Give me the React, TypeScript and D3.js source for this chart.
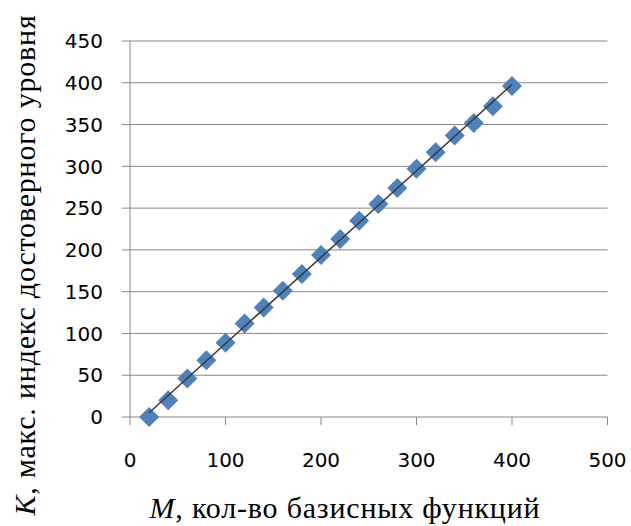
import React from "react";
import * as d3 from "d3";

const mValues = [20, 40, 60, 80, 100, 120, 140, 160, 180, 200, 220, 240, 260, 280, 300, 320, 340, 360, 380, 400];
const kValues = [0, 20, 46, 68, 89, 112, 131, 151, 171, 194, 213, 235, 255, 274, 297, 317, 337, 352, 372, 396];
const xTicks = [0, 100, 200, 300, 400, 500];
const yTicks = [0, 50, 100, 150, 200, 250, 300, 350, 400, 450];

const W = 631;
const H = 526;

export default function App() {
  const x = d3.scaleLinear().domain([0, 500]).range([130, 607.5]);
  const y = d3.scaleLinear().domain([0, 450]).range([417, 41]);

  const n = mValues.length;
  const mx = d3.mean(mValues)!;
  const my = d3.mean(kValues)!;
  let sxy = 0, sxx = 0;
  for (let i = 0; i < n; i++) {
    sxy += (mValues[i] - mx) * (kValues[i] - my);
    sxx += (mValues[i] - mx) ** 2;
  }
  const slope = sxy / sxx;
  const intercept = my - slope * mx;
  const xMin = d3.min(mValues)!;
  const xMax = d3.max(mValues)!;
  const trend = d3.line<number>()
    .x((d) => x(d))
    .y((d) => y(intercept + slope * d))([xMin, xMax]);

  const diamond = d3.symbol().type(d3.symbolSquare).size(200)()!;
  const grid = "#868686";
  const [x0, x1] = x.range();
  const [y0, y1] = y.range();

  return (
    <svg width={W} height={H} style={{ position: "absolute", left: 0, top: 0, background: "#fff" }}>
      {yTicks.map((t) => (
        <g key={"y" + t}>
          <line x1={x0 - 8} x2={x1} y1={y(t)} y2={y(t)} stroke={grid} strokeWidth={1} />
          <text x={103} y={y(t)} dy="0.36em" textAnchor="end" fontFamily="DejaVu Sans" fontSize={20} fill="#000">
            {t}
          </text>
        </g>
      ))}
      <line x1={x0} x2={x0} y1={y1} y2={y0} stroke={grid} strokeWidth={1} />
      {xTicks.map((t) => (
        <g key={"x" + t}>
          <line x1={x(t)} x2={x(t)} y1={y0} y2={y0 + 8} stroke={grid} strokeWidth={1} />
          <text x={x(t)} y={460} dy="0.36em" textAnchor="middle" fontFamily="DejaVu Sans" fontSize={20} fill="#000">
            {t}
          </text>
        </g>
      ))}
      {mValues.map((m, i) => (
        <path key={"p" + i} d={diamond} transform={`translate(${x(m)},${y(kValues[i])}) rotate(45)`} fill="#4F81BD" />
      ))}
      <path d={trend!} stroke="#3a3a3a" strokeWidth={1.5} fill="none" />
      <text x={345} y={518} textAnchor="middle" fontFamily="Liberation Serif" fontSize={30} letterSpacing={0.8} fill="#000">
        <tspan fontStyle="italic">M</tspan>, кол-во базисных функций
      </text>
      <text transform="translate(35,265) rotate(-90)" textAnchor="middle" fontFamily="Liberation Serif" fontSize={30} letterSpacing={0.8} fill="#000">
        <tspan fontStyle="italic">K</tspan>, макс. индекс достоверного уровня
      </text>
    </svg>
  );
}
